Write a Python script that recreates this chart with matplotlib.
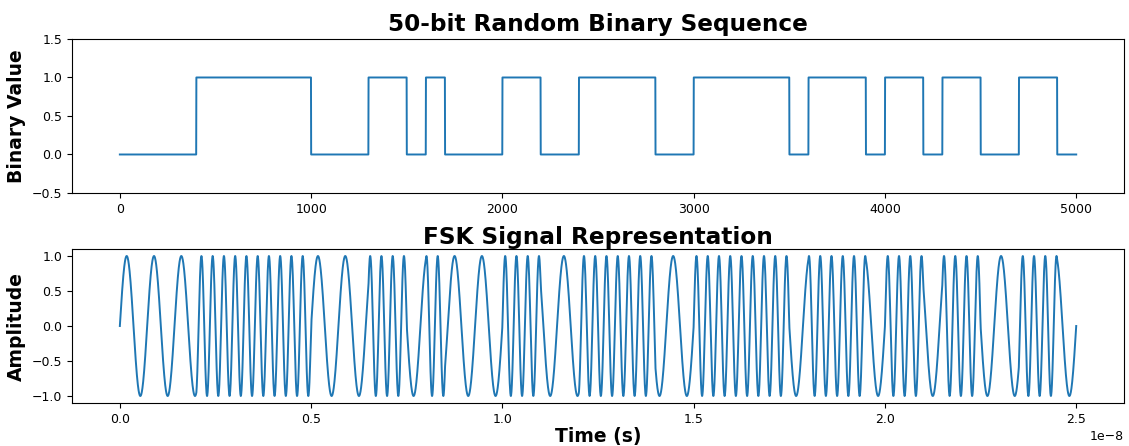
import numpy as np
import matplotlib
matplotlib.use("Agg")
import matplotlib.pyplot as plt

# 50 random bits
bits = [0, 0, 0, 0, 1, 1, 1, 1, 1, 1,
        0, 0, 0, 1, 1, 0, 1, 0, 0, 0,
        1, 1, 0, 0, 1, 1, 1, 1, 0, 0,
        1, 1, 1, 1, 1, 0, 1, 1, 1, 0,
        1, 1, 0, 1, 1, 0, 0, 1, 1, 0]

samples_per_bit = 100
bit_time = 0.5e-9      # seconds per bit
f0 = 1.4e9             # frequency for bit 0
f1 = 3.4e9             # frequency for bit 1

if __name__ == "__main__":
    bit_wave = np.repeat(bits, samples_per_bit)
    n = len(bit_wave)
    t = np.linspace(0, len(bits) * bit_time, n)
    freq = np.where(bit_wave == 1, f1, f0)
    fsk = np.sin(2 * np.pi * freq * t)

    fig = plt.figure(figsize=(11.29, 4.46), dpi=100)
    ax1 = fig.add_axes([0.0638, 0.5673, 0.9318, 0.3453])
    ax2 = fig.add_axes([0.0638, 0.0964, 0.9318, 0.3453])

    ax1.plot(np.arange(n), bit_wave, lw=1.4)
    ax1.set_ylim(-0.5, 1.5)
    ax1.set_yticks([-0.5, 0.0, 0.5, 1.0, 1.5])
    ax1.set_title("50-bit Random Binary Sequence", fontsize=16.7, fontweight="bold")
    ax1.set_ylabel("Binary Value", fontsize=13.5, fontweight="bold")

    ax2.plot(t, fsk, lw=1.4)
    ax2.set_title("FSK Signal Representation", fontsize=16.7, fontweight="bold", pad=3)
    ax2.set_xlabel("Time (s)", fontsize=13.5, fontweight="bold", labelpad=1)
    ax2.set_ylabel("Amplitude", fontsize=13.5, fontweight="bold")

    for ax in (ax1, ax2):
        ax.tick_params(labelsize=9)
    ax2.xaxis.get_offset_text().set_fontsize(9)

    fig.savefig("out.png", dpi=100)
